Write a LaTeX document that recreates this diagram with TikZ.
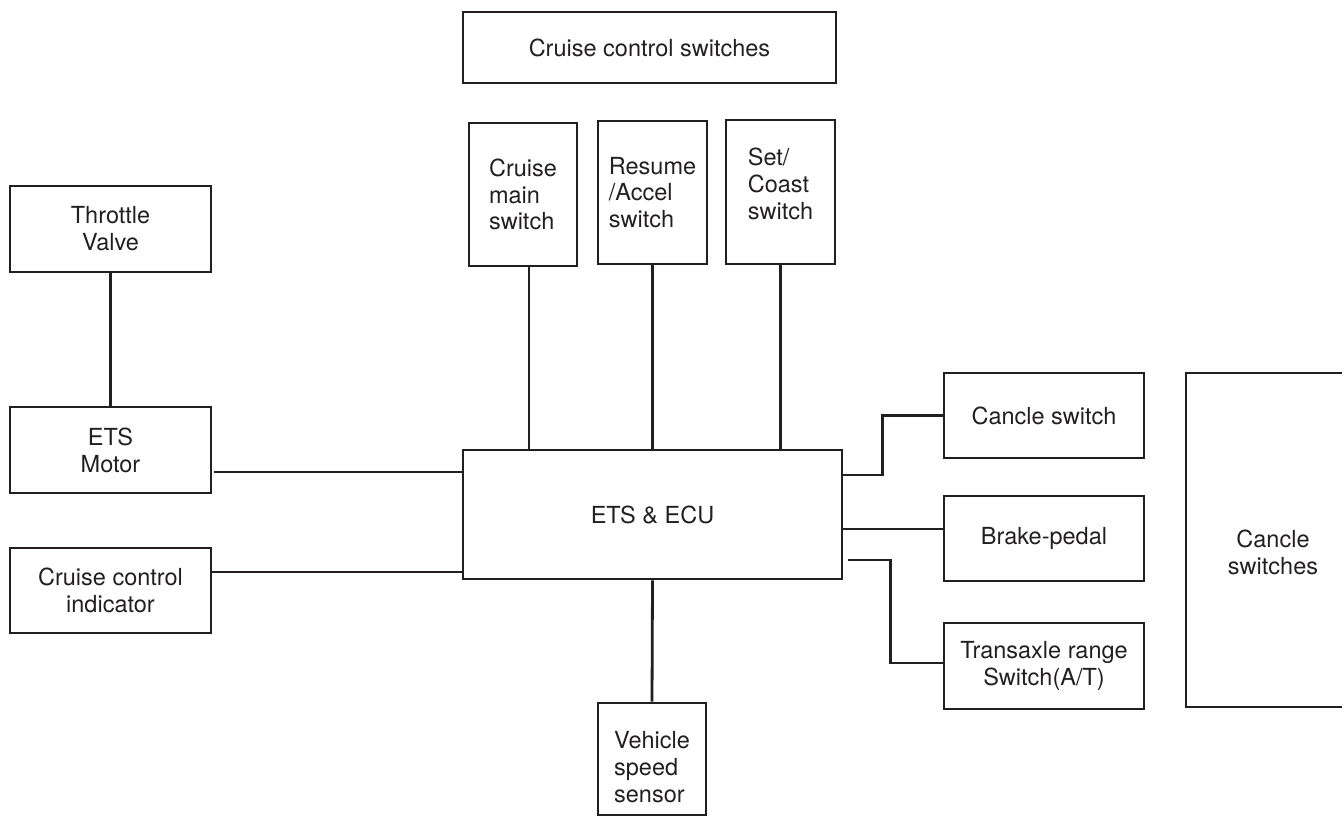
\documentclass[tikz,border=0pt]{standalone}
\usepackage{fontspec}
\setmainfont{TeX Gyre Heros}
\usetikzlibrary{positioning,calc}
\definecolor{wireblack}{RGB}{35,31,32}

\begin{document}
\begin{tikzpicture}[
  x=0.5pt,y=-0.5pt,
  font=\fontsize{11.75}{13.4}\selectfont,
  wire/.style={draw=wireblack,line width=1.4pt},
  unitbox/.style={draw=wireblack,line width=1.4pt,rectangle,inner sep=2pt,
    align=center,text=wireblack},
  sidebox/.style={unitbox,minimum width=100.5pt,minimum height=43pt},
  switchbox/.style={unitbox,align=left,minimum width=54.5pt,minimum height=71.5pt},
  rightbox/.style={unitbox,minimum width=100pt,minimum height=42.5pt}
]
\useasboundingbox (0,0) rectangle (1342,823);
\clip (0,0) rectangle (1342,823);

% Switch group on top.
\node[unitbox,minimum width=186.5pt,minimum height=35.5pt] (group) at (649.5,47.5)
  {Cruise control switches};
\node[switchbox,minimum width=54pt] (mainsw) at (523,194.5) {Cruise\\main\\switch};
\node[switchbox] (resumesw) at (652.5,192.5) {Resume\\/Accel\\switch};
\node[switchbox,minimum height=72pt] (setsw) at (780.5,192) {Set/\\Coast\\switch\\[-5.4pt]};

% Control unit.
\node[unitbox,minimum width=189.5pt,minimum height=64.5pt] (ecu) at (652.5,514.5) {ETS \& ECU};

% Left side.
\node[sidebox] (throttle) at (110.5,229) {Throttle\\Valve};
\node[sidebox] (motor) at (110.5,450) {ETS\\Motor};
\node[sidebox,minimum height=42.5pt] (indicator) at (110.5,590.5) {Cruise control\\indicator};

% Bottom.
\node[switchbox,minimum width=54pt,minimum height=56pt] (speed) at (652,759)
  {\rule{0pt}{16.5pt}Vehicle\\speed\\sensor};

% Right side.
\node[rightbox] (cancel) at (1044,415.5) {Cancle switch};
\node[rightbox] (brake) at (1044,538.5) {Brake-pedal};
\node[rightbox,minimum height=43pt] (transaxle) at (1044,666) {Transaxle range\\Switch(A/T)};
\node[unitbox,minimum width=87pt,minimum height=167pt] (cancelgroup) at (1273,540) {};
\node[align=center,text=wireblack] (cancelgrouplabel) at (1273,552) {Cancle\\switches};

% Wires.
\draw[wire] ([xshift=3pt]mainsw.south) -- ([xshift=3pt]mainsw.south |- ecu.north);
\draw[wire] (resumesw.south) -- (resumesw.south |- ecu.north);
\draw[wire] (setsw.south) -- (setsw.south |- ecu.north);
\draw[wire] (throttle.south) -- (motor.north);
\draw[wire] ([xshift=1pt,yshift=-11pt]motor.east) -- ([yshift=-11pt]motor.east -| ecu.west);
\draw[wire] ([yshift=9.25pt]indicator.east) -- ([yshift=9.25pt]indicator.east -| ecu.west);
\draw[wire] (ecu.south) -- (speed.north);
\draw[wire] ([yshift=19.75pt]ecu.east) -| ([xshift=-30pt]cancel.west) -- (cancel.west);
\draw[wire] ([yshift=-7.25pt]ecu.east) -- ([yshift=-7.25pt]ecu.east -| brake.west);
\draw[wire] ([xshift=2.5pt,yshift=-22.75pt]ecu.east) -| ([xshift=-26pt,yshift=1.5pt]transaxle.west)
  -- ([yshift=1.5pt]transaxle.west);
\end{tikzpicture}
\end{document}
